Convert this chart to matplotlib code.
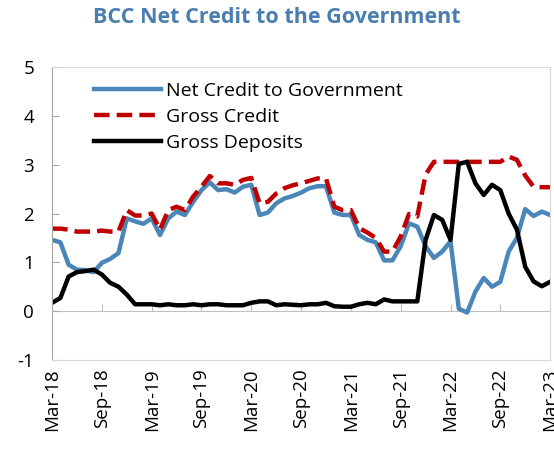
import numpy as np
import matplotlib
matplotlib.use("Agg")
import matplotlib.pyplot as plt

plt.rcParams['font.family'] = ['Open Sans', 'DejaVu Sans']
plt.rcParams['axes.unicode_minus'] = False

# monthly data, Mar-18 .. Mar-23 (61 months)
tick_labels = ['Mar-18', 'Sep-18', 'Mar-19', 'Sep-19', 'Mar-20', 'Sep-20',
               'Mar-21', 'Sep-21', 'Mar-22', 'Sep-22', 'Mar-23']

net_credit = [1.46, 1.41, 0.95, 0.85, 0.84, 0.80, 0.99, 1.07, 1.19, 1.90,
              1.84, 1.79, 1.90, 1.56, 1.90, 2.04, 1.97, 2.24, 2.48, 2.64,
              2.48, 2.50, 2.43, 2.55, 2.59, 1.97, 2.02, 2.21, 2.31, 2.36,
              2.43, 2.52, 2.56, 2.56, 2.02, 1.97, 1.97, 1.56, 1.46, 1.41,
              1.04, 1.04, 1.33, 1.80, 1.73, 1.33, 1.09, 1.22, 1.43, 0.05,
              -0.03, 0.40, 0.68, 0.50, 0.60, 1.22, 1.50, 2.09, 1.95, 2.04,
              1.97]

gross_credit = [1.69, 1.69, 1.67, 1.63, 1.63, 1.63, 1.65, 1.63, 1.63, 2.07,
                1.96, 1.96, 2.00, 1.67, 2.07, 2.14, 2.07, 2.35, 2.55, 2.77,
                2.62, 2.62, 2.59, 2.69, 2.73, 2.21, 2.24, 2.41, 2.52, 2.58,
                2.62, 2.67, 2.72, 2.72, 2.14, 2.07, 2.07, 1.70, 1.61, 1.50,
                1.22, 1.22, 1.53, 1.99, 1.94, 2.80, 3.06, 3.06, 3.06, 3.06,
                3.06, 3.06, 3.06, 3.06, 3.06, 3.17, 3.10, 2.78, 2.55, 2.54,
                2.54]

gross_deposits = [0.17, 0.27, 0.71, 0.80, 0.82, 0.85, 0.75, 0.58, 0.50, 0.34,
                  0.14, 0.14, 0.14, 0.12, 0.14, 0.12, 0.12, 0.14, 0.12, 0.14,
                  0.14, 0.12, 0.12, 0.12, 0.17, 0.20, 0.20, 0.12, 0.14, 0.13,
                  0.12, 0.14, 0.14, 0.17, 0.10, 0.09, 0.09, 0.14, 0.17, 0.14,
                  0.24, 0.20, 0.20, 0.20, 0.20, 1.46, 1.97, 1.87, 1.46, 3.02,
                  3.06, 2.62, 2.38, 2.59, 2.48, 2.00, 1.67, 0.91, 0.61, 0.51,
                  0.60]

months = np.arange(len(net_credit))

fig = plt.figure(figsize=(5.54, 4.51), dpi=100)
ax = fig.add_axes([0.094, 0.202, 0.899, 0.649])

ax.plot(months, net_credit, color='#4A86B8', lw=3.2, label='Net Credit to Government')
ax.plot(months, gross_credit, color='#C00000', lw=3.2, dashes=(3.5, 1.6),
        label='Gross Credit')
ax.plot(months, gross_deposits, color='black', lw=3.2, label='Gross Deposits')

ax.set_xlim(0, len(months) - 1)
ax.set_ylim(-1, 5)
ax.set_yticks(range(-1, 6))

# month labels along the bottom, no tick marks there
ax.set_xticks(months[::6])
ax.set_xticklabels(tick_labels, rotation=90, fontsize=13.5)
ax.tick_params(axis='x', length=0, pad=6)
ax.tick_params(axis='y', direction='in', length=5, color='#A6A6A6',
               labelsize=13.5, pad=13)

# the horizontal axis line crosses at zero
zero_axis = ax.secondary_xaxis(0, transform=ax.transData)
zero_axis.set_xticks(months[6::6])
zero_axis.tick_params(direction='in', length=5, color='#BFBFBF', labelbottom=False)
zero_axis.spines['bottom'].set_color('#BFBFBF')

for side in ['top', 'right', 'bottom']:
    ax.spines[side].set_color('#D9D9D9')
ax.spines['left'].set_color('#A6A6A6')

ax.legend(loc='upper left', bbox_to_anchor=(0.05, 1.01), frameon=False,
          fontsize=14, handlelength=3.4, handletextpad=0.3, labelspacing=0.42)

fig.suptitle('BCC Net Credit to the Government', x=0.5, y=0.985,
             fontsize=15.5, fontweight='bold', color='#4A7EAF')

plt.savefig('out.png', dpi=100)
